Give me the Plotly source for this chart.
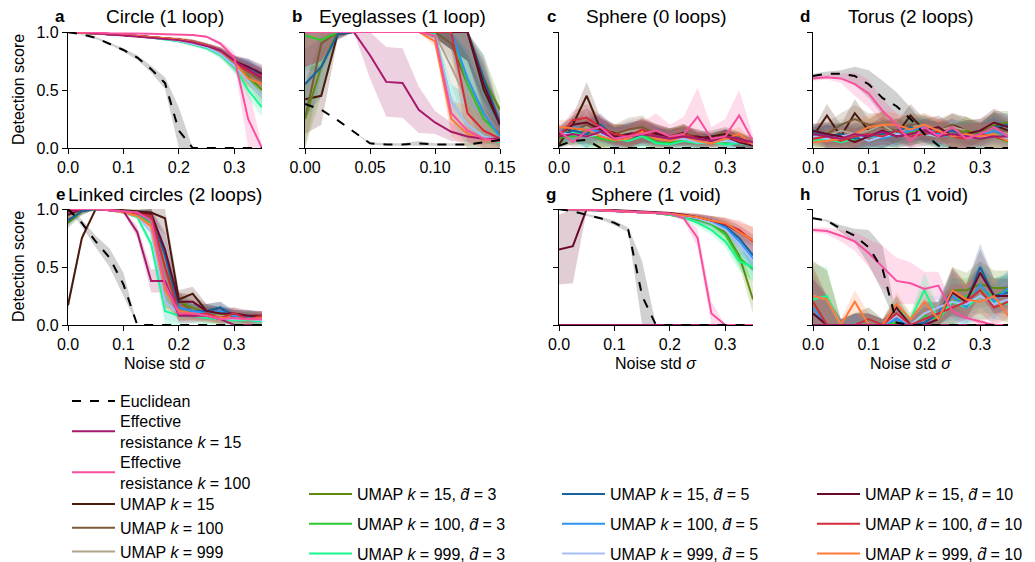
import plotly.graph_objects as go

W, H = 1035, 562
FONT = "Liberation Sans, Arial, sans-serif"

# ---------------- x grids ----------------
X35 = [0.0, 0.025, 0.05, 0.075, 0.1, 0.125, 0.15, 0.175, 0.2, 0.225, 0.25, 0.275, 0.3, 0.325, 0.35]
X15 = [0.0, 0.0125, 0.025, 0.0375, 0.05, 0.0625, 0.075, 0.0875, 0.1, 0.1125, 0.125, 0.1375, 0.15]

# ---------------- series ----------------
SERIES = ["EU", "ER15", "ER100", "U15", "U100", "U999",
          "D3_15", "D3_100", "D3_999", "D5_15", "D5_100", "D5_999",
          "D10_15", "D10_100", "D10_999"]
COLORS = ["#000000", "#a8196b", "#f94fa0", "#4a1a0c", "#7b5a38", "#b0a48c",
          "#5f8a10", "#2ec92e", "#18f890", "#1763a0", "#2e93f0", "#a8c0fa",
          "#6a0a2a", "#d42a3a", "#ff7a38"]
LABELS = ["Euclidean",
          "Effective<br>resistance <i>k</i> = 15",
          "Effective<br>resistance <i>k</i> = 100",
          "UMAP <i>k</i> = 15", "UMAP <i>k</i> = 100", "UMAP <i>k</i> = 999",
          "UMAP <i>k</i> = 15, <i>d̃</i> = 3", "UMAP <i>k</i> = 100, <i>d̃</i> = 3", "UMAP <i>k</i> = 999, <i>d̃</i> = 3",
          "UMAP <i>k</i> = 15, <i>d̃</i> = 5", "UMAP <i>k</i> = 100, <i>d̃</i> = 5", "UMAP <i>k</i> = 999, <i>d̃</i> = 5",
          "UMAP <i>k</i> = 15, <i>d̃</i> = 10", "UMAP <i>k</i> = 100, <i>d̃</i> = 10", "UMAP <i>k</i> = 999, <i>d̃</i> = 10"]
LEGEND_OF = ["legend", "legend6", "legend7"] + ["legend5"] * 3 + ["legend2"] * 3 + ["legend3"] * 3 + ["legend4"] * 3

PANELS = ["a", "b", "c", "d", "e", "g", "h"]
TITLES = ["Circle (1 loop)", "Eyeglasses (1 loop)", "Sphere (0 loops)", "Torus (2 loops)",
          "Linked circles (2 loops)", "Sphere (1 void)", "Torus (1 void)"]
XMAX = [0.35, 0.15, 0.35, 0.35, 0.35, 0.35, 0.35]
XTICKS = [[0, 0.1, 0.2, 0.3], [0, 0.05, 0.1, 0.15], [0, 0.1, 0.2, 0.3], [0, 0.1, 0.2, 0.3],
          [0, 0.1, 0.2, 0.3], [0, 0.1, 0.2, 0.3], [0, 0.1, 0.2, 0.3]]
XTICKTEXT = [["0.0", "0.1", "0.2", "0.3"], ["0.00", "0.05", "0.10", "0.15"], ["0.0", "0.1", "0.2", "0.3"],
             ["0.0", "0.1", "0.2", "0.3"], ["0.0", "0.1", "0.2", "0.3"], ["0.0", "0.1", "0.2", "0.3"],
             ["0.0", "0.1", "0.2", "0.3"]]
YTICKS = [0, 0.5, 1.0]
YTICKTEXT = ["0.0", "0.5", "1.0"]

# ---------------- panel a: Circle ----------------
a_EU = [1.0, 0.98, 0.95, 0.9, 0.845, 0.78, 0.68, 0.56, 0.15, 0, 0, 0, 0, 0, 0]
a_EU_sd = [0, 0.005, 0.01, 0.01, 0.015, 0.02, 0.03, 0.05, 0.2, 0, 0, 0, 0, 0, 0]
a_ER15 = [1, 1, 0.99, 0.98, 0.97, 0.96, 0.95, 0.94, 0.93, 0.91, 0.88, 0.84, 0.75, 0.68, 0.6]
a_ER15_sd = [0, 0, 0, 0, 0.005, 0.01, 0.01, 0.01, 0.015, 0.02, 0.02, 0.03, 0.05, 0.07, 0.08]
a_ER100 = [1, 1, 0.995, 0.99, 0.99, 0.985, 0.985, 0.98, 0.98, 0.975, 0.96, 0.9, 0.78, 0.25, 0.0]
a_ER100_sd = [0, 0, 0, 0, 0, 0, 0, 0, 0, 0, 0.01, 0.02, 0.05, 0.28, 0.02]
a_U15 = [1, 0.995, 0.99, 0.985, 0.975, 0.965, 0.955, 0.945, 0.93, 0.91, 0.88, 0.83, 0.74, 0.68, 0.6]
a_U100 = [1, 0.995, 0.99, 0.985, 0.975, 0.965, 0.955, 0.945, 0.93, 0.91, 0.88, 0.83, 0.73, 0.66, 0.58]
a_U999 = [1, 0.995, 0.99, 0.985, 0.975, 0.965, 0.955, 0.945, 0.93, 0.905, 0.875, 0.82, 0.72, 0.62, 0.5]
a_D3_15 = [1, 0.995, 0.99, 0.985, 0.975, 0.965, 0.955, 0.945, 0.93, 0.905, 0.875, 0.82, 0.72, 0.62, 0.5]
a_D3_100 = [1, 0.995, 0.99, 0.985, 0.975, 0.965, 0.955, 0.94, 0.925, 0.9, 0.87, 0.81, 0.71, 0.6, 0.45]
a_D3_999 = [1, 0.995, 0.99, 0.985, 0.975, 0.965, 0.95, 0.94, 0.92, 0.895, 0.86, 0.8, 0.7, 0.5, 0.35]
a_D5_15 = [1, 0.995, 0.99, 0.985, 0.975, 0.965, 0.955, 0.945, 0.93, 0.91, 0.88, 0.83, 0.74, 0.7, 0.62]
a_D5_100 = [1, 0.995, 0.99, 0.985, 0.975, 0.965, 0.955, 0.945, 0.93, 0.91, 0.88, 0.83, 0.73, 0.69, 0.6]
a_D5_999 = [1, 0.995, 0.99, 0.985, 0.975, 0.965, 0.955, 0.94, 0.925, 0.9, 0.87, 0.81, 0.71, 0.58, 0.45]
a_D10_15 = [1, 0.995, 0.99, 0.985, 0.975, 0.965, 0.955, 0.945, 0.935, 0.915, 0.885, 0.84, 0.75, 0.7, 0.64]
a_D10_100 = [1, 0.995, 0.99, 0.985, 0.975, 0.965, 0.955, 0.945, 0.935, 0.915, 0.885, 0.835, 0.74, 0.66, 0.62]
a_D10_999 = [1, 0.995, 0.99, 0.985, 0.975, 0.965, 0.955, 0.945, 0.935, 0.915, 0.885, 0.835, 0.74, 0.6, 0.55]
a_UMAP_sd = [0, 0, 0, 0, 0.005, 0.01, 0.01, 0.01, 0.015, 0.02, 0.02, 0.03, 0.05, 0.07, 0.08]

# ---------------- panel b: Eyeglasses ----------------
b_EU = [0.38, 0.33, 0.24, 0.14, 0.04, 0.03, 0.03, 0.04, 0.03, 0.03, 0.03, 0.05, 0.07]
b_EU_sd = [0, 0, 0, 0, 0.01, 0.01, 0.01, 0.02, 0.01, 0.01, 0.01, 0.02, 0.02]
b_ER15 = [1, 1, 1, 1, 0.8, 0.57, 0.56, 0.33, 0.22, 0.14, 0.1, 0.08, 0.08]
b_ER15_sd = [0, 0, 0, 0, 0.2, 0.3, 0.3, 0.2, 0.1, 0.08, 0.05, 0.03, 0.02]
b_ER100 = [1, 1, 1, 1, 1, 1, 1, 1, 0.97, 0.3, 0.15, 0.08, 0.06]
b_ER100_sd = [0, 0, 0, 0, 0, 0, 0, 0, 0.05, 0.15, 0.1, 0.05, 0.03]
b_U15 = [0.42, 0.45, 0.98, 1, 1, 1, 1, 1, 1, 1, 1, 0.5, 0.2]
b_U100 = [0.25, 0.9, 1, 1, 1, 1, 1, 1, 1, 0.9, 0.55, 0.25, 0.12]
b_U999 = [1, 1, 1, 1, 1, 1, 1, 1, 0.98, 0.7, 0.4, 0.15, 0.08]
b_D3_15 = [0.25, 0.7, 1, 1, 1, 1, 1, 1, 1, 1, 1, 0.6, 0.33]
b_D3_100 = [0.97, 0.93, 1, 1, 1, 1, 1, 1, 1, 1, 0.55, 0.25, 0.1]
b_D3_999 = [1, 1, 1, 1, 1, 1, 1, 1, 0.98, 0.4, 0.2, 0.1, 0.05]
b_D5_15 = [0.55, 0.7, 0.98, 1, 1, 1, 1, 1, 1, 1, 1, 0.6, 0.22]
b_D5_100 = [1, 1, 1, 1, 1, 1, 1, 1, 1, 1, 0.6, 0.3, 0.1]
b_D5_999 = [1, 1, 1, 1, 1, 1, 1, 1, 0.97, 0.4, 0.2, 0.1, 0.07]
b_D10_15 = [1, 1, 1, 1, 1, 1, 1, 1, 1, 1, 1, 0.55, 0.2]
b_D10_100 = [1, 1, 1, 1, 1, 1, 1, 1, 1, 1, 0.3, 0.15, 0.08]
b_D10_999 = [1, 1, 1, 1, 1, 1, 1, 1, 0.92, 0.25, 0.12, 0.07, 0.06]
b_UMAP_sd = [0.3, 0.25, 0.05, 0, 0, 0, 0, 0, 0.05, 0.15, 0.25, 0.2, 0.1]

# ---------------- panel c: Sphere (0 loops) ----------------
c_EU = [0.02, 0.06, 0.07, 0, 0, 0, 0, 0, 0, 0, 0, 0, 0, 0, 0]
c_EU_sd = [0.02, 0.03, 0.03, 0, 0, 0, 0, 0, 0, 0, 0, 0, 0, 0, 0]
c_ER15 = [0.1, 0.12, 0.1, 0.14, 0.08, 0.1, 0.12, 0.1, 0.08, 0.1, 0.08, 0.06, 0.1, 0.08, 0.05]
c_ER15_sd = [0.05, 0.06, 0.06, 0.08, 0.06, 0.06, 0.08, 0.06, 0.05, 0.06, 0.05, 0.04, 0.06, 0.05, 0.04]
c_ER100 = [0.15, 0.05, 0.15, 0.18, 0.08, 0.1, 0.12, 0.15, 0.1, 0.12, 0.27, 0.08, 0.1, 0.28, 0.06]
c_ER100_sd = [0.05, 0.05, 0.1, 0.1, 0.08, 0.1, 0.1, 0.15, 0.1, 0.15, 0.25, 0.1, 0.15, 0.22, 0.05]
c_U15 = [0.03, 0.2, 0.45, 0.16, 0.13, 0.1, 0.15, 0.13, 0.1, 0.13, 0.08, 0.1, 0.12, 0.08, 0.03]
c_U100 = [0.12, 0.15, 0.2, 0.15, 0.12, 0.16, 0.18, 0.12, 0.08, 0.12, 0.1, 0.06, 0.1, 0.08, 0.05]
c_U999 = [0.1, 0.12, 0.18, 0.1, 0.1, 0.14, 0.16, 0.1, 0.1, 0.1, 0.08, 0.06, 0.08, 0.07, 0.05]
c_D3_15 = [0.08, 0.12, 0.15, 0.1, 0.12, 0.1, 0.14, 0.08, 0.1, 0.12, 0.06, 0.08, 0.1, 0.06, 0.04]
c_D3_100 = [0.1, 0.1, 0.12, 0.08, 0.06, 0.1, 0.12, 0.05, 0.04, 0.08, 0.05, 0.06, 0.04, 0.05, 0.03]
c_D3_999 = [0.12, 0.14, 0.1, 0.12, 0.08, 0.06, 0.1, 0.04, 0.03, 0.06, 0.04, 0.05, 0.03, 0.04, 0.02]
c_D5_15 = [0.1, 0.15, 0.12, 0.2, 0.1, 0.08, 0.12, 0.1, 0.08, 0.1, 0.06, 0.08, 0.1, 0.06, 0.04]
c_D5_100 = [0.14, 0.18, 0.16, 0.14, 0.08, 0.12, 0.14, 0.1, 0.06, 0.1, 0.06, 0.06, 0.06, 0.05, 0.03]
c_D5_999 = [0.12, 0.12, 0.1, 0.12, 0.08, 0.1, 0.13, 0.09, 0.07, 0.08, 0.05, 0.05, 0.06, 0.05, 0.03]
c_D10_15 = [0.12, 0.2, 0.22, 0.16, 0.1, 0.12, 0.14, 0.12, 0.1, 0.1, 0.1, 0.08, 0.1, 0.05, 0.02]
c_D10_100 = [0.1, 0.24, 0.26, 0.18, 0.12, 0.1, 0.16, 0.1, 0.08, 0.12, 0.08, 0.06, 0.1, 0.06, 0.04]
c_D10_999 = [0.18, 0.17, 0.16, 0.1, 0.07, 0.08, 0.14, 0.08, 0.06, 0.1, 0.06, 0.04, 0.08, 0.12, 0.03]
c_UMAP_sd = [0.06, 0.08, 0.12, 0.1, 0.08, 0.1, 0.1, 0.08, 0.07, 0.08, 0.06, 0.05, 0.06, 0.06, 0.04]

# ---------------- panel d: Torus (2 loops) ----------------
d_EU = [0.62, 0.64, 0.64, 0.62, 0.55, 0.43, 0.36, 0.25, 0.12, 0.02, 0, 0, 0, 0, 0]
d_EU_sd = [0.02, 0.02, 0.03, 0.08, 0.12, 0.15, 0.12, 0.1, 0.08, 0.03, 0, 0, 0, 0, 0]
d_ER15 = [0.12, 0.1, 0.08, 0.12, 0.1, 0.14, 0.1, 0.12, 0.15, 0.1, 0.12, 0.1, 0.08, 0.1, 0.1]
d_ER15_sd = [0.06, 0.06, 0.06, 0.08, 0.06, 0.08, 0.06, 0.08, 0.08, 0.06, 0.08, 0.06, 0.06, 0.06, 0.06]
d_ER100 = [0.6, 0.61, 0.6, 0.55, 0.47, 0.32, 0.2, 0.06, 0.18, 0.1, 0.18, 0.08, 0.12, 0.18, 0.1]
d_ER100_sd = [0.02, 0.02, 0.04, 0.1, 0.12, 0.1, 0.1, 0.06, 0.08, 0.08, 0.08, 0.06, 0.06, 0.08, 0.06]
d_U15 = [0.1, 0.28, 0.1, 0.3, 0.15, 0.2, 0.12, 0.28, 0.15, 0.12, 0.2, 0.15, 0.1, 0.2, 0.15]
d_U100 = [0.15, 0.12, 0.2, 0.25, 0.2, 0.18, 0.15, 0.2, 0.18, 0.15, 0.2, 0.12, 0.15, 0.18, 0.12]
d_U999 = [0.12, 0.1, 0.15, 0.12, 0.15, 0.2, 0.12, 0.18, 0.2, 0.15, 0.18, 0.15, 0.12, 0.15, 0.12]
d_D3_15 = [0.1, 0.08, 0.12, 0.06, 0.12, 0.1, 0.15, 0.12, 0.18, 0.12, 0.1, 0.15, 0.12, 0.2, 0.22]
d_D3_100 = [0.08, 0.1, 0.06, 0.1, 0.1, 0.12, 0.1, 0.15, 0.12, 0.1, 0.12, 0.1, 0.08, 0.1, 0.05]
d_D3_999 = [0.06, 0.08, 0.05, 0.08, 0.1, 0.1, 0.12, 0.12, 0.15, 0.12, 0.1, 0.12, 0.1, 0.12, 0.08]
d_D5_15 = [0.14, 0.1, 0.12, 0.08, 0.1, 0.12, 0.15, 0.18, 0.15, 0.12, 0.15, 0.1, 0.12, 0.18, 0.2]
d_D5_100 = [0.12, 0.1, 0.08, 0.1, 0.12, 0.08, 0.12, 0.15, 0.18, 0.12, 0.1, 0.12, 0.1, 0.15, 0.1]
d_D5_999 = [0.1, 0.08, 0.1, 0.12, 0.06, 0.1, 0.12, 0.1, 0.12, 0.1, 0.12, 0.08, 0.1, 0.1, 0.08]
d_D10_15 = [0.15, 0.12, 0.1, 0.05, 0.1, 0.15, 0.1, 0.12, 0.15, 0.18, 0.1, 0.12, 0.15, 0.22, 0.18]
d_D10_100 = [0.08, 0.1, 0.06, 0.1, 0.12, 0.1, 0.15, 0.1, 0.12, 0.14, 0.1, 0.08, 0.12, 0.1, 0.06]
d_D10_999 = [0.05, 0.06, 0.08, 0.12, 0.18, 0.2, 0.2, 0.16, 0.2, 0.15, 0.1, 0.12, 0.1, 0.12, 0.06]
d_UMAP_sd = [0.06, 0.1, 0.1, 0.12, 0.1, 0.12, 0.1, 0.1, 0.1, 0.1, 0.1, 0.12, 0.1, 0.12, 0.1]

# ---------------- panel e: Linked circles ----------------
e_EU = [1.0, 0.88, 0.72, 0.58, 0.35, 0.0, 0, 0, 0, 0, 0, 0, 0, 0, 0]
e_EU_sd = [0, 0.03, 0.05, 0.08, 0.1, 0, 0, 0, 0, 0, 0, 0, 0, 0, 0]
e_ER15 = [0.98, 1, 1, 0.99, 0.98, 0.8, 0.38, 0.38, 0.08, 0.08, 0.08, 0.05, 0, 0, 0]
e_ER15_sd = [0.02, 0, 0, 0, 0.01, 0.05, 0.1, 0.1, 0.05, 0.04, 0.04, 0.03, 0, 0, 0]
e_ER100 = [1, 1, 1, 0.99, 0.98, 0.97, 0.9, 0.35, 0.1, 0.1, 0.08, 0.05, 0.06, 0.05, 0.05]
e_ER100_sd = [0, 0, 0, 0, 0.01, 0.02, 0.05, 0.15, 0.06, 0.05, 0.05, 0.04, 0.04, 0.04, 0.04]
e_U15 = [0.17, 0.75, 1, 1, 0.99, 0.98, 0.97, 0.92, 0.22, 0.27, 0.12, 0.15, 0.05, 0.07, 0.08]
e_U100 = [0.92, 0.98, 1, 0.99, 0.98, 0.97, 0.93, 0.3, 0.2, 0.12, 0.12, 0.1, 0.08, 0.08, 0.06]
e_U999 = [0.93, 0.97, 1, 0.99, 0.98, 0.96, 0.85, 0.3, 0.15, 0.12, 0.1, 0.08, 0.06, 0.05, 0.05]
e_D3_15 = [0.88, 0.98, 1, 0.99, 0.98, 0.97, 0.95, 0.5, 0.2, 0.15, 0.1, 0.1, 0.08, 0.06, 0.06]
e_D3_100 = [0.95, 1, 1, 0.99, 0.98, 0.96, 0.88, 0.35, 0.12, 0.1, 0.08, 0.06, 0.05, 0.05, 0.04]
e_D3_999 = [1, 1, 1, 0.99, 0.97, 0.93, 0.7, 0.12, 0.08, 0.08, 0.06, 0.05, 0.04, 0.04, 0.03]
e_D5_15 = [0.9, 0.98, 1, 0.99, 0.98, 0.97, 0.95, 0.6, 0.15, 0.12, 0.12, 0.15, 0.08, 0.08, 0.07]
e_D5_100 = [0.96, 1, 1, 0.99, 0.98, 0.96, 0.9, 0.35, 0.15, 0.12, 0.1, 0.12, 0.08, 0.06, 0.05]
e_D5_999 = [1, 1, 1, 0.99, 0.97, 0.94, 0.8, 0.2, 0.1, 0.08, 0.08, 0.06, 0.05, 0.05, 0.04]
e_D10_15 = [0.95, 1, 1, 0.99, 0.98, 0.97, 0.96, 0.65, 0.2, 0.2, 0.12, 0.1, 0.1, 0.08, 0.08]
e_D10_100 = [0.97, 1, 1, 0.99, 0.98, 0.96, 0.94, 0.5, 0.1, 0.08, 0.1, 0.06, 0.1, 0.05, 0.08]
e_D10_999 = [1, 1, 1, 0.99, 0.97, 0.94, 0.85, 0.3, 0.12, 0.1, 0.08, 0.06, 0.06, 0.05, 0.06]
e_UMAP_sd = [0.05, 0.03, 0, 0, 0.01, 0.02, 0.05, 0.15, 0.08, 0.06, 0.06, 0.05, 0.05, 0.05, 0.04]

# ---------------- panel g: Sphere (1 void) ----------------
g_EU = [1, 0.98, 0.95, 0.92, 0.88, 0.82, 0.25, 0, 0, 0, 0, 0, 0, 0, 0]
g_EU_sd = [0, 0, 0.01, 0.01, 0.02, 0.02, 0.3, 0, 0, 0, 0, 0, 0, 0, 0]
g_ER15 = [0, 0, 0, 0, 0, 0, 0, 0, 0, 0, 0, 0, 0, 0, 0]
g_ER15_sd = [0, 0, 0, 0, 0, 0, 0, 0, 0, 0, 0, 0, 0, 0, 0]
g_ER100 = [1, 1, 0.995, 0.99, 0.985, 0.98, 0.975, 0.97, 0.96, 0.92, 0.75, 0.1, 0, 0, 0]
g_ER100_sd = [0, 0, 0, 0, 0, 0, 0, 0.01, 0.01, 0.02, 0.08, 0.1, 0, 0, 0]
g_U15 = [0, 0, 0, 0, 0, 0, 0, 0, 0, 0, 0, 0, 0, 0, 0]
g_U100 = [0, 0, 0, 0, 0, 0, 0, 0, 0, 0, 0, 0, 0, 0, 0]
g_U999 = [0, 0, 0, 0, 0, 0, 0, 0, 0, 0, 0, 0, 0, 0, 0]
g_D3_15 = [1, 1, 0.995, 0.99, 0.985, 0.98, 0.975, 0.965, 0.95, 0.93, 0.91, 0.88, 0.8, 0.6, 0.22]
g_D3_100 = [1, 1, 0.995, 0.99, 0.985, 0.98, 0.975, 0.965, 0.95, 0.93, 0.91, 0.87, 0.78, 0.58, 0.48]
g_D3_999 = [1, 1, 0.995, 0.99, 0.985, 0.98, 0.975, 0.965, 0.95, 0.93, 0.88, 0.82, 0.72, 0.55, 0.5]
g_D5_15 = [1, 1, 0.995, 0.99, 0.985, 0.98, 0.975, 0.97, 0.96, 0.94, 0.92, 0.9, 0.85, 0.75, 0.6]
g_D5_100 = [1, 1, 0.995, 0.99, 0.985, 0.98, 0.975, 0.97, 0.96, 0.94, 0.92, 0.89, 0.84, 0.72, 0.57]
g_D5_999 = [1, 1, 0.995, 0.99, 0.985, 0.98, 0.975, 0.97, 0.96, 0.94, 0.92, 0.88, 0.82, 0.7, 0.55]
g_D10_15 = [0.65, 0.68, 1, 0.99, 0.99, 0.985, 0.98, 0.975, 0.965, 0.95, 0.93, 0.9, 0.87, 0.8, 0.73]
g_D10_100 = [1, 1, 0.995, 0.99, 0.985, 0.98, 0.975, 0.97, 0.96, 0.945, 0.93, 0.9, 0.87, 0.82, 0.72]
g_D10_999 = [1, 1, 0.995, 0.99, 0.985, 0.98, 0.975, 0.97, 0.96, 0.945, 0.93, 0.9, 0.88, 0.8, 0.73]
g_UMAP_sd = [0.01, 0.01, 0.01, 0.01, 0.01, 0.01, 0.01, 0.01, 0.01, 0.02, 0.03, 0.04, 0.05, 0.08, 0.12]
g_D10_15_sd = [0.3, 0.32, 0.01, 0.01, 0.01, 0.01, 0.01, 0.01, 0.01, 0.02, 0.03, 0.04, 0.05, 0.06, 0.05]

# ---------------- panel h: Torus (1 void) ----------------
h_EU = [0.92, 0.9, 0.83, 0.77, 0.67, 0.48, 0.02, 0, 0, 0, 0, 0, 0, 0, 0]
h_EU_sd = [0, 0.01, 0.03, 0.06, 0.15, 0.2, 0.05, 0, 0, 0, 0, 0, 0, 0, 0]
h_ER15 = [0, 0, 0, 0, 0, 0, 0, 0, 0, 0, 0, 0, 0, 0, 0]
h_ER15_sd = [0, 0, 0, 0, 0, 0, 0, 0, 0, 0, 0, 0, 0, 0, 0]
h_ER100 = [0.82, 0.81, 0.77, 0.72, 0.62, 0.5, 0.38, 0.36, 0.31, 0.34, 0.12, 0.06, 0.03, 0, 0]
h_ER100_sd = [0.02, 0.03, 0.05, 0.08, 0.12, 0.18, 0.2, 0.18, 0.15, 0.12, 0.06, 0.04, 0.02, 0, 0]
h_U15 = [0, 0, 0, 0, 0, 0, 0, 0, 0, 0, 0, 0, 0, 0, 0]
h_U100 = [0, 0, 0, 0, 0, 0, 0, 0, 0, 0, 0, 0, 0, 0, 0]
h_U999 = [0, 0, 0, 0, 0, 0, 0, 0, 0, 0, 0, 0, 0, 0, 0]
h_D3_15 = [0.2, 0.0, 0, 0, 0, 0, 0, 0, 0.05, 0.1, 0.3, 0.3, 0.35, 0.32, 0.32]
h_D3_100 = [0.25, 0.22, 0, 0, 0, 0, 0.02, 0, 0.08, 0.05, 0.2, 0.25, 0.3, 0.25, 0.3]
h_D3_999 = [0.22, 0.25, 0.0, 0.0, 0.05, 0.0, 0.15, 0.05, 0.3, 0.05, 0.2, 0.15, 0.25, 0.2, 0.18]
h_D5_15 = [0.1, 0, 0, 0, 0, 0, 0.05, 0, 0.02, 0.1, 0.3, 0.2, 0.5, 0.25, 0.28]
h_D5_100 = [0.15, 0, 0, 0, 0, 0, 0.05, 0, 0.05, 0.1, 0.25, 0.15, 0.35, 0.2, 0.32]
h_D5_999 = [0.25, 0.22, 0, 0, 0, 0, 0.08, 0, 0.1, 0.15, 0.2, 0.18, 0.25, 0.18, 0.22]
h_D10_15 = [0.1, 0, 0, 0, 0, 0, 0.15, 0, 0, 0.05, 0.28, 0.2, 0.45, 0.25, 0.25]
h_D10_100 = [0.2, 0, 0, 0, 0.05, 0, 0.1, 0, 0.05, 0.1, 0.15, 0.2, 0.3, 0.15, 0.2]
h_D10_999 = [0.25, 0.22, 0, 0.2, 0, 0, 0.18, 0.05, 0.2, 0.05, 0.3, 0.22, 0.2, 0.25, 0.08]
h_UMAP_sd = [0.3, 0.25, 0.05, 0.1, 0.1, 0.05, 0.1, 0.05, 0.15, 0.1, 0.2, 0.15, 0.2, 0.15, 0.15]

# ---------------- layout geometry (pixels) ----------------
COL_L = [68, 305, 559, 813]
COL_R = [262, 500, 753, 1008]
ROW_T = [32, 209]
ROW_B = [148, 325]
PANEL_POS = [(0, 0), (0, 1), (0, 2), (0, 3), (1, 0), (1, 2), (1, 3)]


def rgba(hexcol, a):
    h = hexcol.lstrip("#")
    return "rgba(%d,%d,%d,%.2f)" % (int(h[0:2], 16), int(h[2:4], 16), int(h[4:6], 16), a)


G = globals()
fig = go.Figure()
for pi, p in enumerate(PANELS):
    xs = X15 if p == "b" else X35
    xref = "x" if pi == 0 else "x%d" % (pi + 1)
    yref = "y" if pi == 0 else "y%d" % (pi + 1)
    # bands first
    for si, s in enumerate(SERIES):
        ys = G["%s_%s" % (p, s)]
        if max(ys) == 0:
            continue
        sd = G.get("%s_%s_sd" % (p, s), G["%s_UMAP_sd" % p])
        if max(sd) == 0:
            continue
        up = [min(1.0, v + d) for v, d in zip(ys, sd)]
        lo = [max(0.0, v - d) for v, d in zip(ys, sd)]
        fc = rgba("#9a9a9a", 0.45) if s == "EU" else rgba(COLORS[si], 0.2)
        fig.add_trace(go.Scatter(x=list(xs) + list(xs[::-1]), y=up + lo[::-1], fill="toself",
                                 fillcolor=fc, line=dict(width=0), mode="lines",
                                 hoverinfo="skip", showlegend=False, xaxis=xref, yaxis=yref))
    # lines: UMAP, then ER, then Euclidean on top
    order = list(range(3, 15)) + [1, 2, 0]
    for si in order:
        s = SERIES[si]
        ys = G["%s_%s" % (p, s)]
        fig.add_trace(go.Scatter(
            x=xs, y=ys, mode="lines", name=LABELS[si],
            line=dict(color=COLORS[si], width=2, dash="dash" if s == "EU" else "solid"),
            showlegend=(pi == 0), legend=LEGEND_OF[si], legendrank=si + 1,
            legendgroup=s, xaxis=xref, yaxis=yref))

annotations = []
for pi, p in enumerate(PANELS):
    r, c = PANEL_POS[pi]
    l, rr = COL_L[c], COL_R[c]
    t, b = ROW_T[r], ROW_B[r]
    sfx = "" if pi == 0 else str(pi + 1)
    fig.layout["xaxis" + sfx] = dict(
        domain=[l / W, rr / W], range=[0, XMAX[pi]], anchor="y" + sfx, automargin=False,
        tickvals=XTICKS[pi], ticktext=XTICKTEXT[pi], showgrid=False, zeroline=False,
        showline=True, linecolor="black", linewidth=1.3, ticks="outside", ticklen=5,
        tickwidth=1.3, tickcolor="black", tickfont=dict(size=16, color="black", family=FONT))
    fig.layout["yaxis" + sfx] = dict(
        domain=[1 - b / H, 1 - t / H], range=[0, 1], anchor="x" + sfx, automargin=False,
        tickvals=YTICKS, ticktext=YTICKTEXT if c == 0 else ["", "", ""], showgrid=False,
        zeroline=False, showline=True, linecolor="black", linewidth=1.3, ticks="outside",
        ticklen=5, tickwidth=1.3, tickcolor="black",
        tickfont=dict(size=16, color="black", family=FONT))
    ty = 17 if r == 0 else 195
    annotations.append(dict(x=(l - 1) / W, y=1 - ty / H, xref="paper", yref="paper",
                            text="<b>%s</b>" % p, showarrow=False, xanchor="right", yanchor="middle",
                            font=dict(size=17, color="black", family=FONT)))
    annotations.append(dict(x=(l + rr) / 2 / W, y=1 - ty / H, xref="paper", yref="paper",
                            text=TITLES[pi], showarrow=False, xanchor="center", yanchor="middle",
                            font=dict(size=19, color="black", family=FONT)))
    if r == 1:
        annotations.append(dict(x=(l + rr) / 2 / W, y=1 - 363 / H, xref="paper", yref="paper",
                                text="Noise std <i>σ</i>", showarrow=False, xanchor="center",
                                yanchor="middle", font=dict(size=16, color="black", family=FONT)))
    if c == 0:
        annotations.append(dict(x=18 / W, y=1 - (t + b) / 2 / H, xref="paper", yref="paper",
                                text="Detection score", showarrow=False, textangle=-90,
                                xanchor="center", yanchor="middle",
                                font=dict(size=16, color="black", family=FONT)))

leg_common = dict(bgcolor="rgba(0,0,0,0)", borderwidth=0, xanchor="left", yanchor="top",
                  font=dict(size=16, color="black", family=FONT), itemwidth=43)
fig.update_layout(
    width=W, height=H, margin=dict(l=0, r=0, t=0, b=0, autoexpand=False),
    paper_bgcolor="white", plot_bgcolor="white",
    font=dict(family=FONT, size=16, color="black"),
    annotations=annotations,
    legend=dict(x=67 / W, y=1 - 384 / H, tracegroupgap=0, **leg_common),
    legend6=dict(x=67 / W, y=1 - 404 / H, tracegroupgap=0, **leg_common),
    legend7=dict(x=67 / W, y=1 - 445 / H, tracegroupgap=0, **leg_common),
    legend5=dict(x=67 / W, y=1 - 487 / H, tracegroupgap=0, **leg_common),
    legend2=dict(x=304 / W, y=1 - 477 / H, tracegroupgap=6, **leg_common),
    legend3=dict(x=557 / W, y=1 - 477 / H, tracegroupgap=6, **leg_common),
    legend4=dict(x=812 / W, y=1 - 477 / H, tracegroupgap=6, **leg_common),
)

fig.write_html("out.html")
